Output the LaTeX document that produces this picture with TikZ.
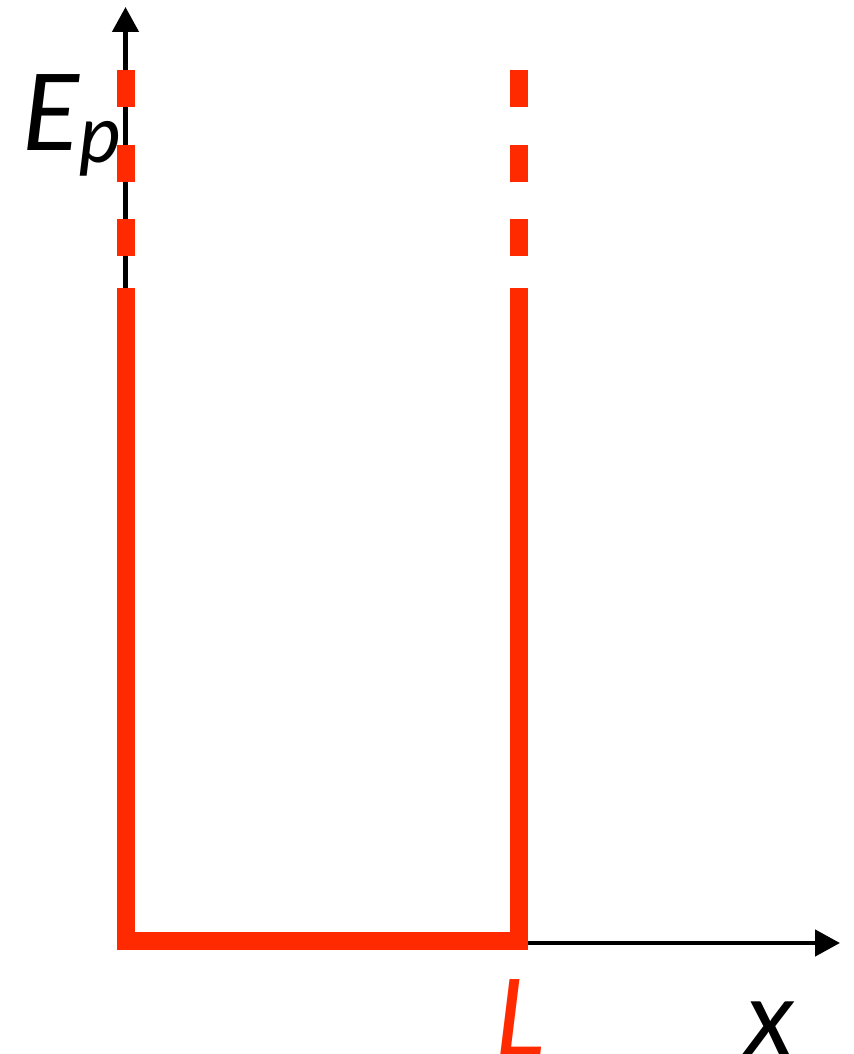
\documentclass[tikz,border=0pt]{standalone}
\usepackage{fontspec}
\setmainfont{Lato}
\usepackage{tikz}
\usetikzlibrary{arrows.meta}
\definecolor{cR}{HTML}{FF2A00}
\tikzset{
  axis/.style={-{Triangle[length=12.5pt,width=13pt]},line width=2.3pt,black},
  well/.style={line width=9pt,cR,line join=miter},
  walldash/.style={line width=9pt,cR,dash pattern=on 18.5pt off 18.75pt},
  lab/.style={inner sep=0pt,font=\fontsize{53}{60}\selectfont\itshape},
}

\begin{document}
\begin{tikzpicture}[x=0.5pt,y=-0.5pt]
  \useasboundingbox (0,0) rectangle (853,1054);
  \coordinate (O) at (125.5,943);
  \coordinate (ytop) at (125.5,7);
  \coordinate (xend) at (840,943);
  % axes
  \draw[axis] (O) -- (ytop);
  \draw[axis] (O) -- (xend);
  % the well
  \coordinate (lw) at (125.5,288);
  \coordinate (lb) at (125.5,941);
  \coordinate (rb) at (518.5,941);
  \coordinate (rw) at (518.5,288);
  \draw[well] (lw) -- (lb) -- (rb) -- (rw);
  \draw[walldash] (125.5,70) -- (125.5,257.5);
  \draw[walldash] (518.5,70) -- (518.5,257.5);
  % labels
  \node[lab,anchor=base west] (ep) at (22,150) {E\raisebox{-6pt}{\fontsize{40}{44}\selectfont p}};
  \node[lab,anchor=base,text=cR] (lL) at (521,1055) {L};
  \node[lab,anchor=base] (lx) at (770,1055) {x};
\end{tikzpicture}
\end{document}
